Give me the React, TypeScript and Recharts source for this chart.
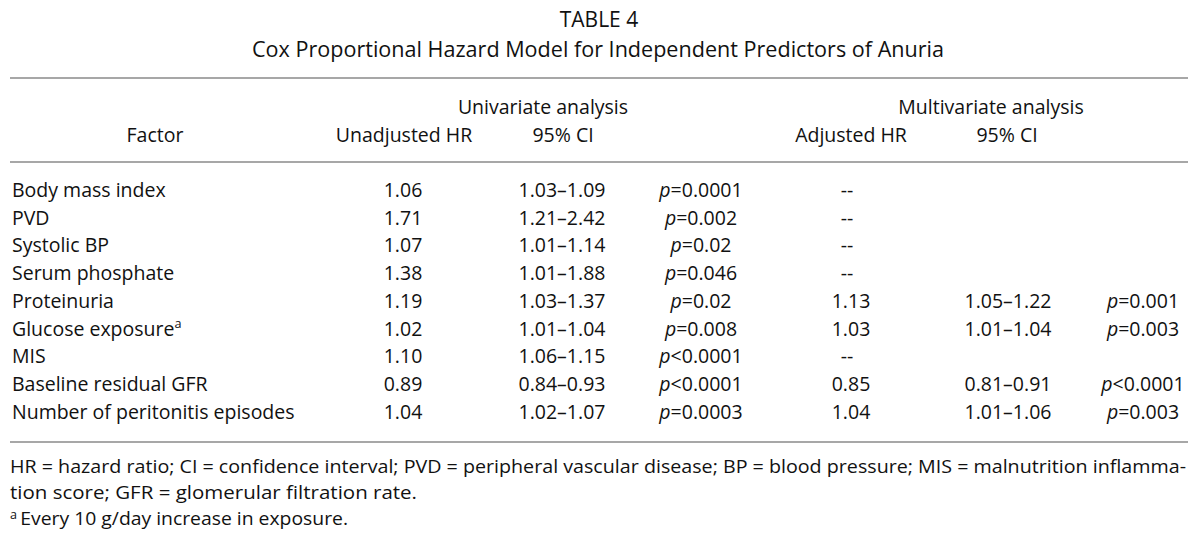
import React from 'react';
import { ScatterChart, Scatter, XAxis, YAxis, ReferenceLine } from 'recharts';

// ---------- data ----------
const titleLines = ['TABLE 4', 'Cox Proportional Hazard Model for Independent Predictors of Anuria'];
const groupHeaders = ['Univariate analysis', 'Multivariate analysis'];
const columnHeaders = ['Factor', 'Unadjusted HR', '95% CI', 'Adjusted HR', '95% CI'];

const factors = [
  'Body mass index',
  'PVD',
  'Systolic BP',
  'Serum phosphate',
  'Proteinuria',
  'Glucose exposure',
  'MIS',
  'Baseline residual GFR',
  'Number of peritonitis episodes',
];
const factorNotes = ['', '', '', '', '', 'a', '', '', ''];
const unadjustedHR = ['1.06', '1.71', '1.07', '1.38', '1.19', '1.02', '1.10', '0.89', '1.04'];
const univariateCI = ['1.03–1.09', '1.21–2.42', '1.01–1.14', '1.01–1.88', '1.03–1.37', '1.01–1.04', '1.06–1.15', '0.84–0.93', '1.02–1.07'];
const univariateP = ['=0.0001', '=0.002', '=0.02', '=0.046', '=0.02', '=0.008', '<0.0001', '<0.0001', '=0.0003'];
const adjustedHR = ['--', '--', '--', '--', '1.13', '1.03', '--', '0.85', '1.04'];
const multivariateCI = ['', '', '', '', '1.05–1.22', '1.01–1.04', '', '0.81–0.91', '1.01–1.06'];
const multivariateP = ['', '', '', '', '=0.001', '=0.003', '', '<0.0001', '=0.003'];

const footnotes = [
  'HR = hazard ratio; CI = confidence interval; PVD = peripheral vascular disease; BP = blood pressure; MIS = malnutrition inflamma-',
  'tion score; GFR = glomerular filtration rate.',
  'Every 10 g/day increase in exposure.',
];
const footnoteMarks = ['', '', 'a'];

// ---------- layout ----------
const W = 1200;
const H = 549;
const FONT = "'Open Sans', Lato, sans-serif";
const BODY = 19.5;
const FOOT = 18.5;
const TITLE = 21;
const TEXT = '#111';
const RULE = '#8a8a8a';

const ROW0 = 190;
const ROW_STEP = 27.75;

type Cell = {
  x: number;
  y: number;
  text: string;
  anchor: 'start' | 'middle' | 'end';
  size: number;
  pItalic?: boolean;
  sup?: string;
  supBefore?: string;
  fit?: number;
};

const cells: Cell[] = [];

cells.push({ x: 599, y: 20, text: titleLines[0], anchor: 'middle', size: TITLE });
cells.push({ x: 598, y: 50, text: titleLines[1], anchor: 'middle', size: TITLE, fit: 692 });

cells.push({ x: 543, y: 107, text: groupHeaders[0], anchor: 'middle', size: BODY });
cells.push({ x: 991, y: 107, text: groupHeaders[1], anchor: 'middle', size: BODY });

const headerX = [155, 404, 563, 851, 1007];
columnHeaders.forEach((h, i) => cells.push({ x: headerX[i], y: 135, text: h, anchor: 'middle', size: BODY }));

factors.forEach((f, r) => {
  const y = ROW0 + r * ROW_STEP;
  cells.push({ x: 12, y, text: f, anchor: 'start', size: BODY, sup: factorNotes[r] || undefined });
  cells.push({ x: 403, y, text: unadjustedHR[r], anchor: 'middle', size: BODY });
  cells.push({ x: 562, y, text: univariateCI[r], anchor: 'middle', size: BODY });
  cells.push({ x: 701, y, text: univariateP[r], anchor: 'middle', size: BODY, pItalic: true });
  if (adjustedHR[r]) cells.push({ x: adjustedHR[r] === '--' ? 847 : 851, y, text: adjustedHR[r], anchor: 'middle', size: BODY });
  if (multivariateCI[r]) cells.push({ x: 1008, y, text: multivariateCI[r], anchor: 'middle', size: BODY });
  if (multivariateP[r]) cells.push({ x: 1143, y, text: multivariateP[r], anchor: 'middle', size: BODY, pItalic: true });
});

const footY = [467, 493, 519];
const footFit = [1176, 407, 338];
footnotes.forEach((t, i) =>
  cells.push({ x: 10, y: footY[i], text: t, anchor: 'start', size: FOOT, fit: footFit[i], supBefore: footnoteMarks[i] || undefined })
);

const TextShape = (props: any) => {
  const { cx, cy, payload } = props;
  const c: Cell = payload;
  if (cx == null || cy == null) return null;
  const baseY = cy + c.size * 0.35;
  return (
    <text
      x={cx}
      y={baseY}
      textAnchor={c.anchor}
      fontFamily={FONT}
      fontSize={c.size}
      fill={TEXT}
      textLength={c.fit}
      lengthAdjust={c.fit ? 'spacingAndGlyphs' : undefined}
    >
      {c.supBefore ? (
        <tspan fontSize={c.size * 0.65} dy={-c.size * 0.35}>{c.supBefore + '  '}</tspan>
      ) : null}
      {c.pItalic ? <tspan fontStyle="italic">p</tspan> : null}
      {c.supBefore ? <tspan dy={c.size * 0.35}>{c.text}</tspan> : <tspan>{c.text}</tspan>}
      {c.sup ? (
        <tspan fontSize={c.size * 0.65} dy={-c.size * 0.4}>{c.sup}</tspan>
      ) : null}
    </text>
  );
};

const rules = [78, 162, 442];

export default function App() {
  return (
    <div style={{ position: 'absolute', left: 0, top: 0, width: W, height: H, background: '#fff' }}>
      <ScatterChart width={W} height={H} margin={{ top: 0, right: 0, bottom: 0, left: 0 }}>
        <XAxis type="number" dataKey="x" domain={[0, W]} hide />
        <YAxis type="number" dataKey="y" domain={[0, H]} reversed hide />
        {rules.map((y) => (
          <ReferenceLine
            key={y}
            segment={[{ x: 10, y }, { x: 1188, y }]}
            stroke={RULE}
            strokeWidth={1.6}
            ifOverflow="visible"
          />
        ))}
        <Scatter data={cells} dataKey="y" shape={<TextShape />} isAnimationActive={false} />
      </ScatterChart>
    </div>
  );
}
